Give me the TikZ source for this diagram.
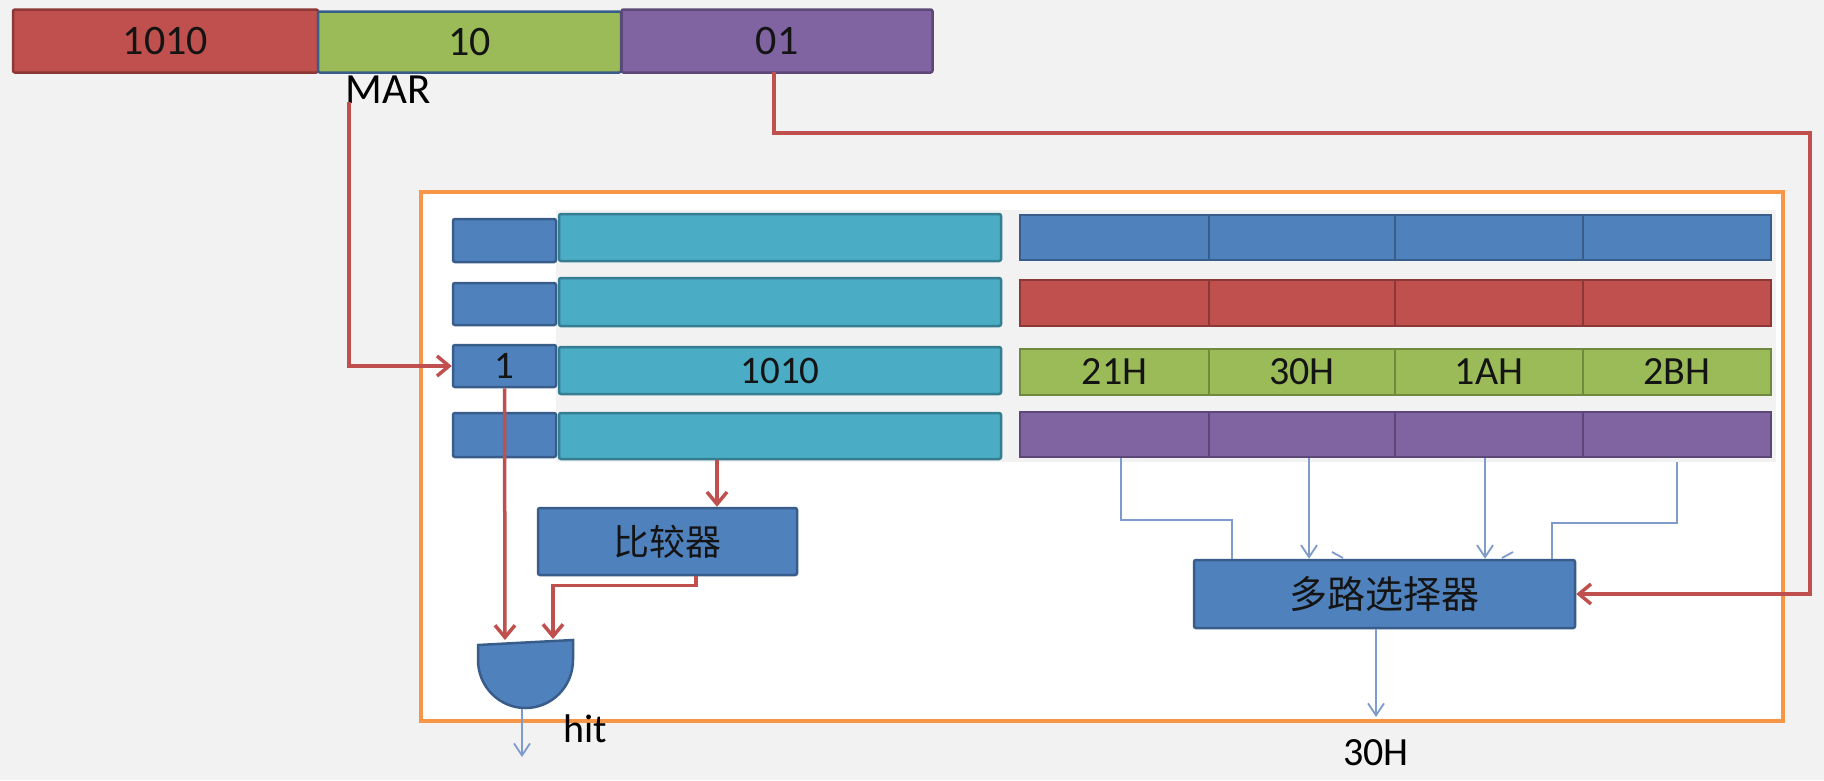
\documentclass[tikz,border=0pt]{standalone}
\usepackage{fontspec}
\setmainfont{Carlito}
\newfontfamily\cjk{Noto Sans CJK SC}
\usetikzlibrary{arrows.meta}
\definecolor{bg}{HTML}{F2F2F2}
\definecolor{cblue}{HTML}{4F81BD}\definecolor{dblue}{HTML}{385D8A}
\definecolor{cred}{HTML}{C0504D}\definecolor{dred}{HTML}{8C3836}
\definecolor{cgreen}{HTML}{9BBB59}\definecolor{dgreen}{HTML}{71893F}
\definecolor{cpurple}{HTML}{8064A2}\definecolor{dpurple}{HTML}{5C4776}
\definecolor{ccyan}{HTML}{4BACC6}\definecolor{dcyan}{HTML}{357D91}
\definecolor{corange}{HTML}{F79646}
\definecolor{thinblue}{HTML}{7F9BCB}
\definecolor{txt}{HTML}{141414}
\tikzset{
  cell/.style={draw, line width=2.5pt, rounded corners=2pt, inner sep=0pt, text=txt, font=\fontsize{39}{40}\selectfont},
  bluecell/.style={cell, fill=cblue, draw=dblue},
  redcell/.style={cell, fill=cred, draw=dred},
  greencell/.style={cell, fill=cgreen, draw=dgreen},
  purplecell/.style={cell, fill=cpurple, draw=dpurple},
  cyancell/.style={cell, fill=ccyan, draw=dcyan},
  redarrow/.style={draw=cred, line width=3.5pt, -{Straight Barb[length=12pt,width=20pt]}},
  redline/.style={draw=cred, line width=3.5pt},
  bluearrow/.style={draw=thinblue, line width=1.8pt, -{Straight Barb[length=12pt,width=16pt]}},
  blueline/.style={draw=thinblue, line width=1.8pt},
  label/.style={text=black, inner sep=0pt, font=\fontsize{40}{42}\selectfont},
}
\begin{document}
\begin{tikzpicture}[x=1pt,y=-1pt]
\useasboundingbox (0,0) rectangle (1824,780);
\fill[bg] (0,0) rectangle (1824,780);
% orange frame
\draw[corange, line width=4pt, fill=white] (421,192) rectangle (1783,721);
\fill[bg] (556,210) rectangle (1776,462);

% MAR register
\node[redcell, minimum width=305pt, minimum height=63pt, font=\fontsize{42}{44}\selectfont] (r0) at (165.5,41) {1010};
\node[greencell, draw=dblue, minimum width=303pt, minimum height=61pt, font=\fontsize{42}{44}\selectfont] (g0) at (469.5,42) {10};
\node[purplecell, minimum width=311pt, minimum height=63pt, font=\fontsize{42}{44}\selectfont] (p0) at (777,41) {01};
\node[label, font=\fontsize{43}{45}\selectfont] (mar) at (388,90) {MAR};

% valid bits
\node[bluecell, minimum width=103pt, minimum height=43pt] (s1) at (504.5,240.5) {};
\node[bluecell, minimum width=103pt, minimum height=42pt] (s2) at (504.5,304) {};
\node[bluecell, minimum width=103pt, minimum height=42pt] (s3) at (504.5,366) {1};
\node[bluecell, minimum width=103pt, minimum height=44pt] (s4) at (504.5,435) {};

% tags
\node[cyancell, minimum width=442pt, minimum height=47pt] (t1) at (780,237.5) {};
\node[cyancell, minimum width=442pt, minimum height=48pt] (t2) at (780,302) {};
\node[cyancell, minimum width=442pt, minimum height=47pt] (t3) at (780,370.5) {1010};
\node[cyancell, minimum width=442pt, minimum height=46pt] (t4) at (780,436) {};

% data rows
\foreach \st/\yy/\hh/\rw in {bluecell/237.5/45/a, redcell/303/46/b, greencell/372/46/c, purplecell/434.5/45/d}{
  \node[\st, rounded corners=0pt, minimum width=189pt, minimum height=\hh pt] (\rw1) at (1114.5,\yy) {};
  \node[\st, rounded corners=0pt, minimum width=186pt, minimum height=\hh pt] (\rw2) at (1302,\yy) {};
  \node[\st, rounded corners=0pt, minimum width=188pt, minimum height=\hh pt] (\rw3) at (1489,\yy) {};
  \node[\st, rounded corners=0pt, minimum width=188pt, minimum height=\hh pt] (\rw4) at (1677,\yy) {};
}
\node[font=\fontsize{40}{42}\selectfont, text=txt] at (c1) {21H};
\node[font=\fontsize{40}{42}\selectfont, text=txt] at (c2) {30H};
\node[font=\fontsize{40}{42}\selectfont, text=txt] at (c3) {1AH};
\node[font=\fontsize{40}{42}\selectfont, text=txt] at (c4) {2BH};

% comparator and multiplexer
\node[bluecell, minimum width=259pt, minimum height=67pt, font=\cjk\fontsize{36}{38}\selectfont] (cmp) at (667.5,541.5) {比较器};
\node[bluecell, minimum width=381pt, minimum height=68pt, font=\cjk\fontsize{38}{40}\selectfont] (mux) at (1384.5,594) {多路选择器};

% AND gate
\draw[dblue, line width=2.5pt, fill=cblue] (478,645) -- (573,640) -- (573,660)
   arc[start angle=0, end angle=180, x radius=47.5, y radius=48] -- cycle;
\coordinate (gin1) at (505,640);
\coordinate (gin2) at (553,639);
\coordinate (gout) at (522,709);
\coordinate (hitend) at (522,757);
\node[label, anchor=west] (hit) at (563,729) {hit};

% red connectors
\coordinate (marout) at (349,102);
\draw[redarrow] (marout) |- (s3.west);
\coordinate (p0out) at (774,72);
\coordinate (rturn) at (1810,133);
\draw[redarrow] (p0out) |- (rturn) |- (mux.east);
\draw[redarrow] (s3.south) -- (gin1);
\coordinate (xtag) at (717,0);
\draw[redarrow] (t4.south -| xtag) -- (cmp.north -| xtag);
\coordinate (xcmp) at (696,0);
\draw[redarrow] (cmp.south -| xcmp) -- ++(0,9) -| (gin2);

% thin blue connectors
\coordinate (xa) at (1121,0);
\coordinate (xa2) at (1232,520);
\draw[blueline] (d1.south -| xa) |- (xa2) -- (mux.north -| xa2);
\coordinate (xb) at (1309,0);
\draw[bluearrow] (d2.south -| xb) -- (mux.north -| xb);
\coordinate (xc) at (1485,0);
\draw[bluearrow] (d3.south -| xc) -- (mux.north -| xc);
\coordinate (xd) at (1677,462);
\coordinate (xd2) at (1552,523);
\draw[blueline] (xd) |- (xd2) -- (mux.north -| xd2);
\draw[blueline] (1332,552) -- (1343,558);
\draw[blueline] (1513,552) -- (1502,558);
\coordinate (xm) at (1376,0);
\coordinate (muxend) at (1376,717);
\draw[bluearrow] (mux.south -| xm) -- (muxend);
\draw[bluearrow] (gout) -- (hitend);
\node[label] (out) at (1376,753) {30H};
\end{tikzpicture}
\end{document}
